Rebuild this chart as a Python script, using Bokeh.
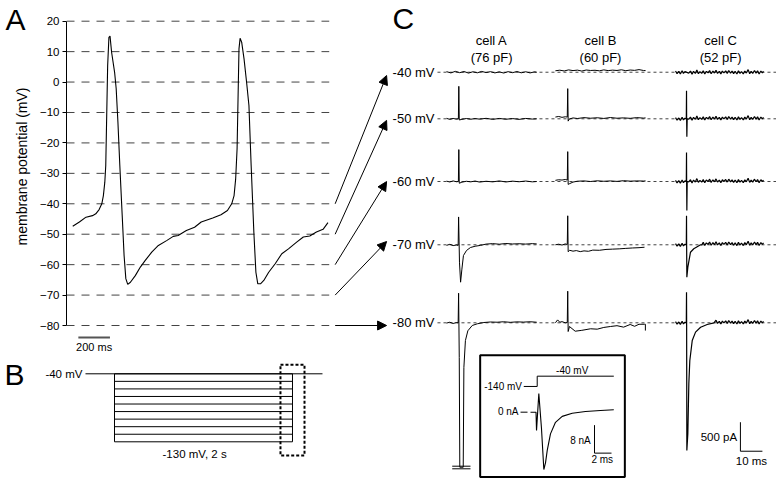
import math
from bokeh.plotting import figure
from bokeh.layouts import row, column
from bokeh.models import Range1d, FixedTicker, Arrow, NormalHead, ColumnDataSource
from bokeh.core.properties import value
from bokeh.embed import file_html
from bokeh.resources import INLINE

FONT = "Liberation Sans"

# ---------------- data: panel A (membrane potential, ms / mV) ----------------
ap_t = [0, 42, 84, 125, 146, 167, 184, 194, 203, 209, 215, 221, 229, 236, 246, 265, 275, 286, 298, 313,
        325, 336, 348, 365, 396, 428, 459, 500, 542, 594, 636, 667, 719, 771, 813, 886, 938, 979, 1006, 1021,
        1031, 1040, 1046, 1052, 1059, 1069, 1084, 1100, 1115, 1129, 1146, 1159, 1171, 1188, 1209, 1240, 1281,
        1323, 1365, 1417, 1459, 1500, 1542, 1584, 1615]
ap_mV = [-47.4, -46.0, -44.4, -43.9, -43.3, -41.9, -40.0, -37.3, -32.9, -27.4, -11.0, 5.4, 14.7, 15.1, 9.8,
         3.2, -2.2, -13.2, -27.4, -43.8, -57.0, -64.6, -66.5, -65.8, -63.6, -60.8, -58.6, -55.9, -53.7, -52.1,
         -50.7, -50.4, -48.8, -47.7, -46.0, -44.7, -43.6, -42.2, -40.0, -37.3, -31.8, -21.9, -5.5, 10.9, 14.4,
         13.1, 7.6, 0.0, -7.7, -27.4, -49.3, -62.5, -66.3, -66.3, -65.2, -62.5, -59.7, -56.4, -54.8, -52.6,
         -50.9, -50.6, -49.3, -48.4, -46.2]
mv_ticks = [-80, -70, -60, -50, -40, -30, -20, -10, 0, 10, 20]
arrow_from_mV = [-40, -50, -60, -70, -80]
arrow_to_mV = [2.15, -12.6, -32.7, -52.4, -80]
scale_A_ms = 200

# ---------------- data: panel B (protocol, s / mV) ----------------
hold_mV = -40
step_levels_mV = [-40, -50, -60, -70, -80, -90, -100, -110, -120, -130]
step_dur_s = 2.0

# ---------------- data: panel C (currents, ms / pA) ----------------
row_labels = ["-40 mV", "-50 mV", "-60 mV", "-70 mV", "-80 mV"]
cell_names = ["cell A", "cell B", "cell C"]
cell_caps = ["(76 pF)", "(60 pF)", "(52 pF)"]

# cell A
cA40_t = [0, 2, 4, 6, 8, 10, 12, 14, 16, 18, 20, 22, 24, 26, 28, 30, 32, 34, 36, 38, 40, 41]
cA40_i = [10, -12, 15, -8, 12, -15, 8, -10, 14, -6, 10, -12, 6, -14, 10, -8, 12, -10, 8, -12, 6, 0]
cA50_t = [0, 1.5, 3, 4.5, 5.4, 5.6, 5.8, 7, 9, 11, 13, 15, 18, 21, 24, 27, 30, 33, 36, 39, 41]
cA50_i = [8, -10, 6, -6, 0, 560, -20, -10, 5, -8, 4, -6, 8, -10, 6, -8, 4, -10, 6, -5, 0]
cA60_t = [0, 1.5, 3, 4.5, 5.4, 5.6, 5.8, 7, 9, 11, 13, 15, 18, 21, 24, 27, 30, 33, 36, 39, 41]
cA60_i = [6, -8, 10, -4, 0, 550, -30, -12, 4, -6, 8, -10, 4, -6, 10, -8, 6, -4, 8, -6, 0]
cA70_t = [0, 1.5, 3, 4.5, 5.3, 5.5, 5.9, 6.4, 7.0, 7.7, 9.1, 10.9, 13, 15.5, 18, 21, 24, 27, 30, 33, 36, 39, 41]
cA70_i = [-10, 8, -14, -4, -10, 480, -300, -645, -420, -185, -98, -47, -25, -10, 12, 20, 10, 22, 14, 18, 12, 20, 15]
cA80_t = [0, 1.5, 3, 4.5, 5.3, 5.5, 5.8, 6.05, 7.6, 7.9, 8.6, 9.7, 11.7, 14, 17, 20, 23, 26, 29, 32, 35, 38, 41]
cA80_i = [-5, 10, -12, 4, 0, 510, -600, -2490, -2490, -770, -306, -138, -46, -17, 5, 14, 10, 18, 8, 16, 12, 18, 10]
cA80_break_pA = [-2472, -2517]
cA80_break_ms = [2.6, 10.9]

# cell B
cB40_t = [0, 2, 4, 6, 8, 10, 12, 14, 16, 18, 20, 22, 24, 26, 28, 30, 32, 34, 36, 38, 40, 41]
cB40_i = [25, 35, 22, 40, 28, 36, 20, 38, 30, 34, 24, 40, 28, 36, 30, 42, 26, 38, 32, 45, 30, 28]
cB50_t = [0, 1.5, 3, 4.5, 5.4, 5.6, 5.8, 6.3, 8, 10, 13, 16, 19, 22, 25, 28, 31, 34, 37, 40, 41]
cB50_i = [30, 40, 25, 35, 30, 520, -40, -5, 15, 5, 20, 10, 18, 6, 22, 10, 16, 8, 20, 12, 15]
cB60_t = [0, 1.5, 3, 4.5, 5.4, 5.6, 5.8, 6.3, 8, 10, 13, 16, 19, 22, 25, 28, 31, 34, 37, 40, 41]
cB60_i = [20, 30, 25, 35, 25, 515, -50, -40, -10, 5, 10, 0, 12, 4, 10, 2, 14, 6, 10, 8, 10]
cB70_t = [0, 1.5, 3, 4.5, 5.4, 5.6, 5.8, 6.5, 8, 9.5, 11.3, 13, 15, 17, 20, 23, 26, 29, 32, 35, 38, 40.5]
cB70_i = [0, 10, -5, 15, 5, 500, -120, -95, -110, -100, -118, -105, -112, -92, -95, -80, -75, -70, -62, -55, -50, -42]
cB80_t = [0, 1, 2, 3, 4.5, 5.4, 5.6, 5.8, 6.4, 9, 12, 16, 19, 22, 25, 28, 31, 34, 36, 38, 40.5, 40.9, 40.9]
cB80_i = [0, 50, 10, 20, 0, 5, 545, -150, -64, -145, -130, -103, -110, -80, -64, -50, -75, -29, -60, -25, -25, -25, -134]

# cell C: recorded baseline noise, plus the transients of each row
cC_noise_t = [0, 0.7, 1.5, 2.2, 3, 3.6, 4.3, 6, 6.8, 7.5, 8.2, 9, 9.7, 10.4, 11.1, 11.9, 12.6, 13.3, 14, 14.8,
              15.5, 16.2, 17, 17.7, 18.4, 19.1, 19.9, 20.6, 21.3, 22, 22.8, 23.5, 24.2, 25, 25.7, 26.4, 27.1,
              27.9, 28.6, 29.3, 30, 30.8, 31.5, 32.2, 33, 33.7, 34.4, 35.1, 35.9, 36.6, 37.3, 38, 38.8, 39.5, 40]
cC_noise_i = [20, -25, 15, -30, 25, -20, 10, -15, 20, -35, 15, -20, 40, -25, 10, -20, 25, -30, 15, -10, 30,
              -25, 20, -15, 35, -20, 15, -30, 20, -10, 25, -20, 30, -15, 20, -25, 15, -30, 25, -20, 10,
              -30, 20, -15, 45, -25, 15, -20, 30, -15, 25, -30, 20, -10, 15]
cC50_tr_t = [4.9, 5.0, 5.05, 5.15, 5.3]
cC50_tr_i = [0, 483, 0, -310, 0]
cC60_tr_t = [4.9, 5.0, 5.05, 5.15, 5.3]
cC60_tr_i = [0, 500, 0, -500, 0]
cC70_tr_t = [4.9, 5.0, 5.05, 5.15, 5.6, 6.8, 8.3, 11.4]
cC70_tr_i = [0, 500, 0, -560, -385, -128, -69, 0]
cC80_tr_t = [4.9, 5.0, 5.05, 5.15, 5.6, 6.05, 6.5, 7.6, 9.1, 11.4, 14.4, 17.5]
cC80_tr_i = [0, 527, 0, -2200, -1913, -1051, -650, -305, -161, -76, -29, 0]

# inset (ms / nA)
inset_i_t = [-0.79, -0.14, -0.08, 0.19, 0.5, 0.78, 0.98, 1.18, 1.56, 2.15, 2.94, 4.12, 5.68, 7.45, 9.01]
inset_i_nA = [0, 0, -5.2, 5.3, -4.5, -16.4, -14.4, -10.9, -6.2, -2.9, -1.2, -0.3, 0.2, 0.5, 0.7]
inset_v_t = [-1.58, 0, 0, 9.01]
inset_v_mV = [-140, -140, -40, -40]
scale_C_pA = 500
scale_C_ms = 10
scale_in_nA = 8
scale_in_ms = 2


def bare(fig):
    fig.outline_line_color = None
    fig.xgrid.visible = False
    fig.ygrid.visible = False
    return fig


# ====================== PANEL A: left strip (letter + axis title) ======================
pl = bare(figure(width=36, height=358, x_range=Range1d(0, 36), y_range=Range1d(358, 0),
                 x_axis_location=None, y_axis_location=None, toolbar_location=None, output_backend="svg",
                 min_border=0, frame_align=False))
pl.text(x=[5], y=[18.5], text=["A"], text_font=value(FONT), text_font_size="30px",
        text_align="left", text_baseline="middle", text_color="black")
pl.text(x=[21], y=[166], text=["membrane potential (mV)"], text_font=value(FONT), text_font_size="14px",
        text_align="center", text_baseline="middle", text_color="black", angle=math.pi / 2)

# ====================== PANEL A ======================
pa = bare(figure(width=353, height=358, x_range=Range1d(-39.4, 2004.4), y_range=Range1d(-90.84, 26.80),
                 x_axis_location=None, y_axis_location="left", toolbar_location=None, output_backend="svg",
                 min_border_left=26, min_border_right=0, min_border_top=0, min_border_bottom=0,
                 frame_align=False))
ya = pa.yaxis[0]
ya.ticker = FixedTicker(ticks=mv_ticks)
ya.bounds = (-80, 20)
ya.minor_tick_line_color = None
ya.major_tick_in = 0
ya.major_tick_out = 4
ya.major_label_standoff = 3
ya.major_label_text_font = FONT
ya.major_label_text_font_size = "11.5px"
ya.major_label_text_color = "black"
ya.axis_line_color = "black"
ya.major_tick_line_color = "black"

grid_end = ap_t[-1] + 8
pa.segment(x0=[-39.4] * len(mv_ticks), x1=[grid_end] * len(mv_ticks), y0=mv_ticks, y1=mv_ticks,
           line_color="#444444", line_width=1, line_dash="8 7")
pa.line(ap_t, ap_mV, line_color="black", line_width=1.1)

sb_x0 = 35.6
pa.segment(x0=[sb_x0], x1=[sb_x0 + scale_A_ms], y0=[-83.9], y1=[-83.9], line_color="#555555", line_width=2)
pa.text(x=[sb_x0 + scale_A_ms / 2], y=[-87.1], text=["200 ms"], text_font=value(FONT), text_font_size="11px",
        text_align="center", text_baseline="middle", text_color="black")

arrow_src = ColumnDataSource(dict(x0=[1660.6] * 5, y0=arrow_from_mV, x1=[1986.0] * 5, y1=arrow_to_mV))
pa.add_layout(Arrow(end=NormalHead(size=9, fill_color="black", line_color="black", line_width=1),
                    x_start="x0", y_start="y0", x_end="x1", y_end="y1", source=arrow_src,
                    line_color="black", line_width=1))

# ====================== PANEL B ======================
pb = bare(figure(width=389, height=124, x_range=Range1d(-1.281, 3.090), y_range=Range1d(-183.87, -19.75),
                 x_axis_location=None, y_axis_location=None, toolbar_location=None, output_backend="svg",
                 min_border=0, frame_align=False))
pb.segment(x0=[-0.326], x1=[step_dur_s + 0.337], y0=[hold_mV], y1=[hold_mV], line_color="black", line_width=1)
n = len(step_levels_mV)
pb.segment(x0=[0] * n, x1=[step_dur_s] * n, y0=step_levels_mV, y1=step_levels_mV, line_color="black", line_width=1)
pb.segment(x0=[0, step_dur_s], x1=[0, step_dur_s], y0=[hold_mV, hold_mV],
           y1=[min(step_levels_mV)] * 2, line_color="black", line_width=1)
pb.quad(left=[step_dur_s - 0.135], right=[step_dur_s + 0.135], top=[-28.1], bottom=[-148.1],
        fill_color=None, line_color="black", line_width=2, line_dash="3 2")
pb.text(x=[-0.36], y=[hold_mV], text=["-40 mV"], text_font=value(FONT), text_font_size="11.5px",
        text_align="right", text_baseline="middle", text_color="black")
pb.text(x=[0.9], y=[-145.5], text=["-130 mV, 2 s"], text_font=value(FONT), text_font_size="11.5px",
        text_align="center", text_baseline="middle", text_color="black")
pb.text(x=[-1.236], y=[-40.3], text=["B"], text_font=value(FONT), text_font_size="30px",
        text_align="left", text_baseline="middle", text_color="black")

# ====================== PANEL C ======================
pc = bare(figure(width=387, height=482, x_range=Range1d(-25.91, 150.0), y_range=Range1d(-2753.2, 5556.5),
                 x_axis_location=None, y_axis_location=None, toolbar_location=None, output_backend="svg",
                 min_border=0, frame_align=False))

row_base = [4320, 3517, 2436, 1345, 0]
cell_off = [0, 49.5, 104.1]

pc.segment(x0=[-4.1] * 5, x1=[150.0] * 5, y0=row_base, y1=row_base,
           line_color="#444444", line_width=1, line_dash="3 3")
pc.text(x=[-5.45] * 5, y=row_base, text=row_labels, text_font=value(FONT), text_font_size="13px",
        text_align="right", text_baseline="middle", text_color="black")
pc.text(x=[o + 20.5 for o in cell_off], y=[4875] * 3, text=cell_names, text_font=value(FONT),
        text_font_size="13px", text_align="center", text_baseline="middle", text_color="black")
pc.text(x=[o + 20.5 for o in cell_off], y=[4570] * 3, text=cell_caps, text_font=value(FONT),
        text_font_size="13px", text_align="center", text_baseline="middle", text_color="black")
pc.text(x=[-24.5], y=[5241], text=["C"], text_font=value(FONT), text_font_size="30px",
        text_align="left", text_baseline="middle", text_color="black")


def compose_c(tr_t, tr_i, post_offset):
    t0, t1 = tr_t[0], tr_t[-1]
    ts = [t for t in cC_noise_t if t < t0] + tr_t + [t for t in cC_noise_t if t > t1 + 0.4]
    vs = ([v for t, v in zip(cC_noise_t, cC_noise_i) if t < t0] + tr_i +
          [v + post_offset for t, v in zip(cC_noise_t, cC_noise_i) if t > t1 + 0.4])
    return ts, vs


traces = [
    (0, 0, cA40_t, cA40_i), (0, 1, cA50_t, cA50_i), (0, 2, cA60_t, cA60_i), (0, 3, cA70_t, cA70_i),
    (0, 4, cA80_t, cA80_i),
    (1, 0, cB40_t, cB40_i), (1, 1, cB50_t, cB50_i), (1, 2, cB60_t, cB60_i), (1, 3, cB70_t, cB70_i),
    (1, 4, cB80_t, cB80_i),
]
for c, r, ts, vs in traces:
    pc.line([t + cell_off[c] for t in ts], [v + row_base[r] for v in vs], line_color="black", line_width=1)

c_rows = [(cC_noise_t, cC_noise_i), compose_c(cC50_tr_t, cC50_tr_i, 10), compose_c(cC60_tr_t, cC60_tr_i, 10),
          compose_c(cC70_tr_t, cC70_tr_i, 17), compose_c(cC80_tr_t, cC80_tr_i, 10)]
for r, (ts, vs) in enumerate(c_rows):
    pc.line([t + cell_off[2] for t in ts], [v + row_base[r] for v in vs], line_color="black", line_width=1.2)

pc.segment(x0=[cA80_break_ms[0]] * 2, x1=[cA80_break_ms[1]] * 2, y0=cA80_break_pA, y1=cA80_break_pA,
           line_color="black", line_width=1)

sbx, sby = 133.6, -2214
pc.segment(x0=[sbx, sbx], x1=[sbx, sbx + scale_C_ms], y0=[sby + scale_C_pA, sby], y1=[sby, sby],
           line_color="black", line_width=1)
pc.text(x=[sbx - 1.5], y=[sby + scale_C_pA / 2], text=["500 pA"], text_font=value(FONT), text_font_size="11.5px",
        text_align="right", text_baseline="middle", text_color="black")
pc.text(x=[sbx + scale_C_ms / 2], y=[sby - 160], text=["10 ms"], text_font=value(FONT), text_font_size="11.5px",
        text_align="center", text_baseline="middle", text_color="black")

# inset, own units (ms, nA) placed inside panel C
IX0, IY0 = 41.23, -1541.0
KX, KY = 3.864, 60.34


def ix(v):
    return [IX0 + KX * a for a in v]


def iy(v):
    return [IY0 + KY * a for a in v]


pc.quad(left=ix([-6.71]), right=ix([10.31]), top=iy([16.29]), bottom=iy([-18.5]),
        fill_color="white", line_color="black", line_width=2)
pc.line(ix(inset_v_t), iy([10.29 + (m + 40) * 0.0294 for m in inset_v_mV]), line_color="black", line_width=1)
pc.line(ix(inset_i_t), iy(inset_i_nA), line_color="black", line_width=1.1)
pc.segment(x0=ix([-1.96]), x1=ix([-1.14]), y0=iy([0]), y1=iy([0]), line_color="black", line_width=1)
pc.segment(x0=ix([6.74, 6.74]), x1=ix([6.74, 6.74 + scale_in_ms]), y0=iy([-11.7 + scale_in_nA, -11.7]),
           y1=iy([-11.7, -11.7]), line_color="black", line_width=1)
pc.text(x=ix([4.12]), y=iy([11.9]), text=["-40 mV"], text_font=value(FONT), text_font_size="10px",
        text_align="center", text_baseline="middle", text_color="black")
pc.text(x=ix([-1.79, -2.2, 6.3]), y=iy([7.34, 0.1, -8.0]), text=["-140 mV", "0 nA", "8 nA"],
        text_font=value(FONT), text_font_size="10px", text_align="right", text_baseline="middle",
        text_color="black")
pc.text(x=ix([7.65]), y=iy([-13.4]), text=["2 ms"], text_font=value(FONT), text_font_size="10px",
        text_align="center", text_baseline="middle", text_color="black")

layout = row(column(row(pl, pa), pb), pc)
open("out.html", "w").write(file_html(layout, INLINE))
